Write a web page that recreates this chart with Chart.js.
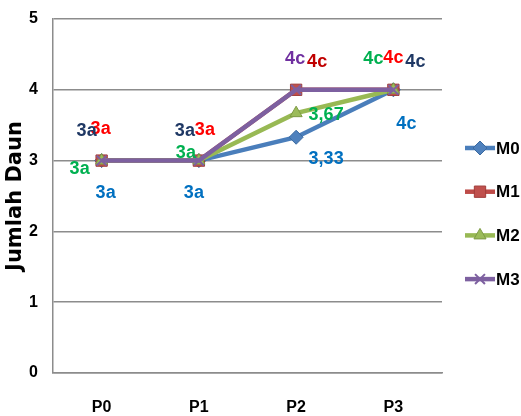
<!DOCTYPE html>
<html>
<head>
<meta charset="utf-8">
<script src="https://cdn.jsdelivr.net/npm/chart.js@4.4.1/dist/chart.umd.min.js"></script>
<style>
  html, body { margin: 0; padding: 0; background: #ffffff; }
  canvas { display: block; }
</style>
</head>
<body>
<canvas id="chart" width="521" height="416"></canvas>
<script>
// Leaf count per treatment (P0..P3) for each series M0..M3
const categories = ['P0', 'P1', 'P2', 'P3'];
const seriesNames = ['M0', 'M1', 'M2', 'M3'];
const valuesM0 = [3, 3, 3.33, 4];
const valuesM1 = [3, 3, 4, 4];
const valuesM2 = [3, 3, 3.67, 4];
const valuesM3 = [3, 3, 4, 4];
// Significance letters written after each value
const lettersM0 = ['a', 'a', '', 'c'];
const lettersM1 = ['a', 'a', 'c', 'c'];
const lettersM2 = ['a', 'a', '', 'c'];
const lettersM3 = ['a', 'a', 'c', 'c'];
const yTickValues = [0, 1, 2, 3, 4, 5];
const yAxisTitle = 'Jumlah Daun';

const seriesValues = [valuesM0, valuesM1, valuesM2, valuesM3];
const seriesLetters = [lettersM0, lettersM1, lettersM2, lettersM3];

// Visual style of each series and placement of its value labels (pixel offsets from the point)
const seriesStyle = [
  { line: '#4A7EBB', fill: '#4F81BD', edge: '#3B6AA0', point: 'rectRot', radius: 7,
    labelColors: ['#0070C0', '#0070C0', '#0070C0', '#0070C0'],
    labelOffsets: [[4, 32], [-5, 32], [30, 22], [13, 34]] },
  { line: '#BE4B48', fill: '#C0504D', edge: '#A03D3A', point: 'rect', radius: 8,
    labelColors: ['#FF0000', '#FF0000', '#C00000', '#FF0000'],
    labelOffsets: [[-1, -32], [6, -31], [21, -28], [0, -32]] },
  { line: '#98B954', fill: '#9BBB59', edge: '#7D9A45', point: 'triangle', radius: 7,
    labelColors: ['#00B050', '#00B050', '#00B050', '#00B050'],
    labelOffsets: [[-22, 8], [-13, -8], [30, 2], [-20, -31]] },
  { line: '#7D60A0', fill: '#8064A2', edge: '#7D60A0', point: 'crossRot', radius: 7,
    labelColors: ['#1F3864', '#1F3864', '#7030A0', '#1F3864'],
    labelOffsets: [[-15, -30], [-14, -30], [-1, -31], [22, -28]] }
];

const formatValue = v => String(v).replace('.', ',');

const datasets = seriesNames.map((name, i) => ({
  label: name,
  data: seriesValues[i],
  borderColor: seriesStyle[i].line,
  backgroundColor: seriesStyle[i].fill,
  borderWidth: 4.5,
  pointStyle: seriesStyle[i].point,
  pointRadius: seriesStyle[i].radius,
  pointHoverRadius: seriesStyle[i].radius,
  pointBackgroundColor: seriesStyle[i].fill,
  pointBorderColor: seriesStyle[i].edge,
  pointBorderWidth: seriesStyle[i].point === 'crossRot' ? 2 : 1,
  tension: 0,
  order: seriesNames.length - 1 - i
}));

// Value + letter labels next to every point
const valueLabels = {
  id: 'valueLabels',
  afterDatasetsDraw(chart) {
    const ctx = chart.ctx;
    ctx.save();
    ctx.font = 'bold 18px "Liberation Sans Narrow", "Liberation Sans", sans-serif';
    ctx.textAlign = 'center';
    ctx.textBaseline = 'middle';
    chart.data.datasets.forEach((ds, i) => {
      const meta = chart.getDatasetMeta(i);
      meta.data.forEach((pt, j) => {
        const [dx, dy] = seriesStyle[i].labelOffsets[j];
        ctx.fillStyle = seriesStyle[i].labelColors[j];
        ctx.fillText(formatValue(ds.data[j]) + seriesLetters[i][j], pt.x + dx, pt.y + dy);
      });
    });
    ctx.restore();
  }
};

// Legend on the right: line segment with marker, then the series name
const sideLegend = {
  id: 'sideLegend',
  afterDraw(chart) {
    const { ctx, chartArea } = chart;
    const x0 = chartArea.right + 23;
    const lineLen = 30;
    chart.data.datasets.forEach((ds, i) => {
      const y = chartArea.top + 129 + i * 43.7;
      ctx.save();
      ctx.strokeStyle = ds.borderColor;
      ctx.lineWidth = 4.5;
      ctx.beginPath();
      ctx.moveTo(x0, y);
      ctx.lineTo(x0 + lineLen, y);
      ctx.stroke();
      ctx.fillStyle = ds.pointBackgroundColor;
      ctx.strokeStyle = ds.pointBorderColor;
      ctx.lineWidth = ds.pointBorderWidth;
      Chart.helpers.drawPoint(ctx, {
        pointStyle: ds.pointStyle, radius: ds.pointRadius,
        borderWidth: ds.pointBorderWidth, rotation: 0
      }, x0 + lineLen / 2, y);
      ctx.fillStyle = '#000000';
      ctx.font = 'bold 17px "Liberation Sans", sans-serif';
      ctx.textAlign = 'left';
      ctx.textBaseline = 'middle';
      ctx.fillText(ds.label, x0 + lineLen + 1, y + 1);
      ctx.restore();
    });
  }
};

const tickFont = { family: '"Liberation Sans Narrow", "Liberation Sans", sans-serif', weight: 'bold', size: 16 };
const gridGrey = '#8C8C8C';

new Chart(document.getElementById('chart'), {
  type: 'line',
  data: { labels: categories, datasets },
  options: {
    responsive: false,
    devicePixelRatio: 1,
    animation: false,
    layout: { padding: { top: 19, right: 79, bottom: 0, left: 0 } },
    plugins: {
      legend: { display: false },
      tooltip: { enabled: false }
    },
    scales: {
      x: {
        offset: true,
        grid: { display: false, drawTicks: false },
        border: { display: true, color: gridGrey, width: 1.5 },
        ticks: { color: '#000000', font: tickFont, padding: 25, maxRotation: 0 },
        afterFit(scale) { scale.height = 43; }
      },
      y: {
        min: 0,
        max: 5,
        afterBuildTicks(scale) { scale.ticks = yTickValues.map(v => ({ value: v })); },
        grid: { color: gridGrey, lineWidth: 1.5, drawTicks: false },
        border: { display: true, color: gridGrey, width: 1.5 },
        ticks: { color: '#000000', font: tickFont, padding: 15 },
        title: {
          display: true,
          text: yAxisTitle,
          color: '#000000',
          font: { family: '"DejaVu Sans", sans-serif', weight: 'bold', size: 21 },
          padding: { top: 3, bottom: 0 }
        },
        afterFit(scale) {
          scale.width = 53;
          scale.paddingTop = 0;
          scale.paddingBottom = 0;
        }
      }
    }
  },
  plugins: [valueLabels, sideLegend]
});
</script>
</body>
</html>
